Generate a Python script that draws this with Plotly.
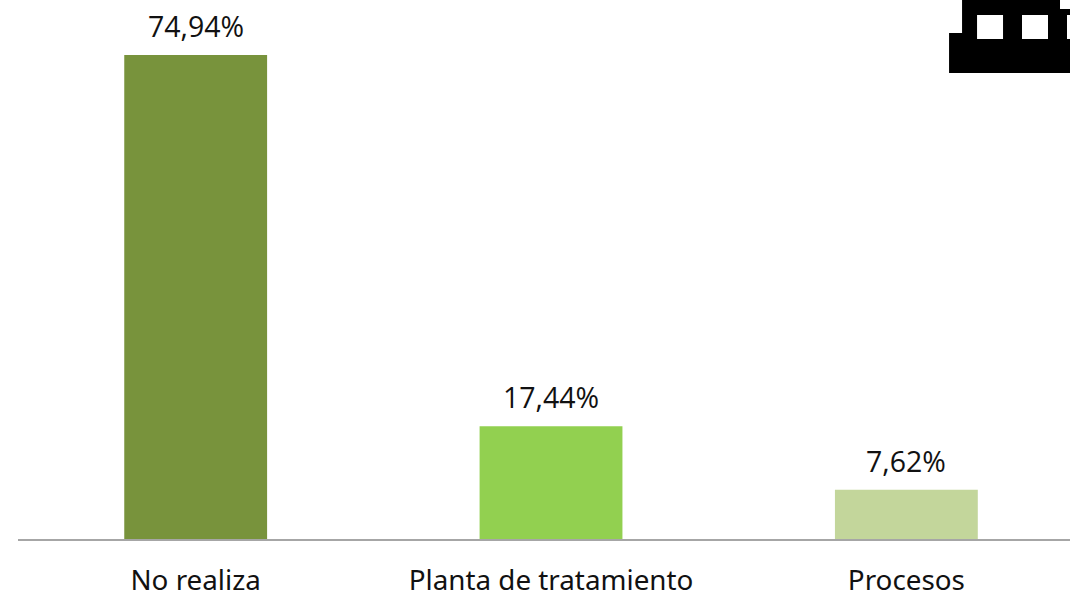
import plotly.graph_objects as go

categories = ["No realiza", "Planta de tratamiento", "Procesos"]
values = [74.94, 17.44, 7.62]
value_labels = ["74,94%", "17,44%", "7,62%"]
colors = ["#78933c", "#92d050", "#c3d69b"]

W, H = 1070, 592
fig = go.Figure(go.Bar(
    x=categories, y=values, width=0.402,
    marker=dict(color=colors, line=dict(width=0)),
    cliponaxis=False, hoverinfo="skip",
))

for cat, val, lab in zip(categories, values, value_labels):
    fig.add_annotation(x=cat, y=val, text=lab, showarrow=False, yanchor="bottom",
                       yshift=8, font=dict(family="Open Sans", size=28.5, color="#111111"))

def box(x0, y0, x1, y1, color):
    return dict(type="rect", xref="paper", yref="paper", layer="above",
                x0=(x0 - 17.5) / (W - 17.5), x1=(x1 - 17.5) / (W - 17.5),
                y0=(539 - y1) / 539, y1=(539 - y0) / 539,
                fillcolor=color, line=dict(width=0))
icon = [
    box(949, 33, 1070, 73, "#000000"),
    box(962, 0, 1060, 36, "#000000"),
    box(1055, 9, 1070, 36, "#000000"),
    box(977, 15, 1003, 39, "#ffffff"),
    box(1022, 15, 1048, 39, "#ffffff"),
    box(1067, 15, 1070, 39, "#ffffff"),
]

fig.update_layout(
    width=W, height=H, autosize=False,
    margin=dict(l=17.5, r=0, t=0, b=53, pad=0),
    paper_bgcolor="#ffffff", plot_bgcolor="#ffffff",
    showlegend=False, shapes=icon,
    font=dict(family="Open Sans"),
    xaxis=dict(
        type="category", range=[-0.5, 2.4605], showgrid=False, zeroline=False,
        showline=True, linecolor="#a6a6a6", linewidth=2, ticks="",
        ticklabelstandoff=16, automargin=False,
        tickfont=dict(family="Noto Sans", size=27.8, color="#111111"),
    ),
    yaxis=dict(range=[0, 83.45], visible=False, automargin=False),
)
fig.write_html("out.html", config={"displayModeBar": False},
               post_script="document.body.style.margin='0';document.body.style.overflow='hidden';")
